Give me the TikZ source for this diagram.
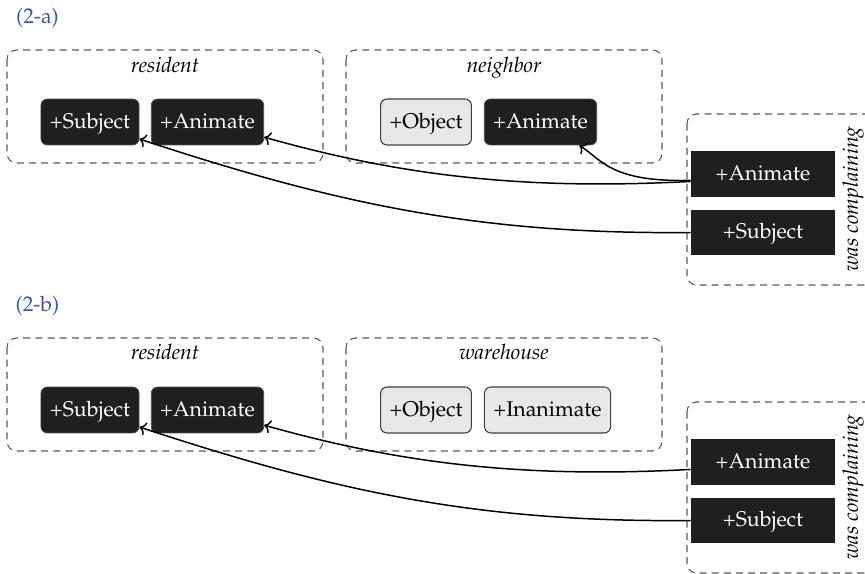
\documentclass[tikz,border=0pt]{standalone}
\usepackage[T1]{fontenc}
\usepackage{mathpazo}
\usetikzlibrary{arrows.meta}
\definecolor{exblue}{RGB}{62,84,168}
\tikzset{
  feat/.style={rounded corners=3pt, fill=black!88, draw=black!70, line width=0.4pt,
    text=white, minimum height=21.6pt, inner xsep=4.2pt, text height=7.5pt, text depth=1.5pt},
  featoff/.style={feat, fill=black!9, draw=black!75, line width=0.5pt, text=black},
  verbfeat/.style={fill=black!88, text=white, minimum width=67.7pt, minimum height=21.6pt,
    text height=7.5pt, text depth=1.5pt},
  wordbox/.style={draw=black!65, dash pattern=on 3.3pt off 2.4pt, line width=0.5pt, rounded corners=4.5pt},
  wordlabel/.style={anchor=base, font=\itshape},
  link/.style={-{To[length=3pt]}, line width=0.7pt},
}
\begin{document}
\begin{tikzpicture}[x=0.47pt, y=-0.47pt]
    \useasboundingbox (0,0) rectangle (865,574);
    % (2-a)
    \node[text=exblue] (exa) at (37.5,18) {(2-a)};
    \draw[wordbox] (7,50) rectangle (323,163);
    \draw[wordbox] (346,50) rectangle (662,163);
    \draw[wordbox] (687,114) rectangle (885,285);
    \node[wordlabel] (resa) at (165,73) {resident};
    \node[wordlabel] (neia) at (504,73) {neighbor};
    \node[font=\itshape, rotate=90] (verba) at (853,199) {was complaining};
    \node[feat] (ls) at (90,122) {+Subject};
    \node[feat] (la) at (207.5,122) {+Animate};
    \node[featoff] (no) at (426,122) {+Object};
    \node[feat] (na) at (540.5,122) {+Animate};
    \node[verbfeat] (ra) at (763,174) {+Animate};
    \node[verbfeat] (rs) at (763,232.5) {+Subject};
    \draw[link] ([yshift=-3.5pt]ra.west) .. controls +(-170,9) and +(135,38) .. (la.-15);
    \draw[link] ([yshift=-3pt]ra.west) .. controls +(-80,2) and +(22,14) .. (na.-31);
    \draw[link] (rs.west) .. controls +(-210,2) and +(200,66) .. (ls.-19);
    % (2-b)
    \node[text=exblue] (exb) at (37.5,306) {(2-b)};
    \draw[wordbox] (7,338) rectangle (323,451);
    \draw[wordbox] (346,338) rectangle (662,451);
    \draw[wordbox] (687,402) rectangle (885,573);
    \node[wordlabel] (resb) at (165,360) {resident};
    \node[wordlabel] (wareb) at (504,360) {warehouse};
    \node[font=\itshape, rotate=90] (verbb) at (853,487) {was complaining};
    \node[feat] (lsb) at (90,410) {+Subject};
    \node[feat] (lab) at (207.5,410) {+Animate};
    \node[featoff] (nob) at (426,410) {+Object};
    \node[featoff] (nib) at (547.5,410) {+Inanimate};
    \node[verbfeat] (rab) at (763,462) {+Animate};
    \node[verbfeat] (rsb) at (763,520.5) {+Subject};
    \draw[link] ([yshift=-3.5pt]rab.west) .. controls +(-170,9) and +(135,38) .. (lab.-15);
    \draw[link] (rsb.west) .. controls +(-210,2) and +(200,66) .. (lsb.-19);
\end{tikzpicture}
\end{document}
